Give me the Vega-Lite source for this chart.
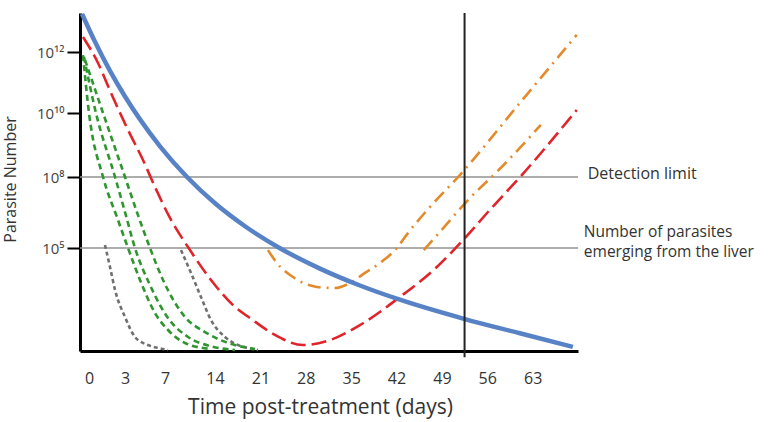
{
  "$schema": "https://vega.github.io/schema/vega-lite/v6.json",
  "width": 498,
  "height": 338,
  "autosize": {"type": "none"},
  "padding": {"left": 80, "top": 13, "right": 193, "bottom": 71},
  "background": "white",
  "config": {"view": {"stroke": null}, "font": "Open Sans"},
  "datasets": {
    "curves": [
      {"curve": "gray1", "day": 1.33, "log10_parasites": 5.13},
      {"curve": "gray1", "day": 1.75, "log10_parasites": 4.08},
      {"curve": "gray1", "day": 2.17, "log10_parasites": 2.96},
      {"curve": "gray1", "day": 3.0, "log10_parasites": 1.65},
      {"curve": "gray1", "day": 4.0, "log10_parasites": 0.68},
      {"curve": "gray1", "day": 5.3, "log10_parasites": 0.29},
      {"curve": "gray1", "day": 6.3, "log10_parasites": 0.15},
      {"curve": "gray1", "day": 7.42, "log10_parasites": 0.05},
      {"curve": "gray2", "day": 9.24, "log10_parasites": 4.9},
      {"curve": "gray2", "day": 10.64, "log10_parasites": 3.79},
      {"curve": "gray2", "day": 12.04, "log10_parasites": 2.62},
      {"curve": "gray2", "day": 13.44, "log10_parasites": 1.5},
      {"curve": "gray2", "day": 15.54, "log10_parasites": 0.68},
      {"curve": "gray2", "day": 17.55, "log10_parasites": 0.29},
      {"curve": "gray2", "day": 19.09, "log10_parasites": 0.15},
      {"curve": "gray2", "day": 20.63, "log10_parasites": 0.05},
      {"curve": "green1", "day": -0.5, "log10_parasites": 11.9},
      {"curve": "green1", "day": 0.0, "log10_parasites": 10.0},
      {"curve": "green1", "day": 1.17, "log10_parasites": 8.0},
      {"curve": "green1", "day": 2.42, "log10_parasites": 6.18},
      {"curve": "green1", "day": 3.3, "log10_parasites": 5.0},
      {"curve": "green1", "day": 4.5, "log10_parasites": 3.45},
      {"curve": "green1", "day": 6.0, "log10_parasites": 1.84},
      {"curve": "green1", "day": 7.42, "log10_parasites": 1.02},
      {"curve": "green1", "day": 9.8, "log10_parasites": 0.39},
      {"curve": "green1", "day": 13.3, "log10_parasites": 0.1},
      {"curve": "green2", "day": -0.42, "log10_parasites": 11.84},
      {"curve": "green2", "day": 0.58, "log10_parasites": 10.0},
      {"curve": "green2", "day": 2.17, "log10_parasites": 8.0},
      {"curve": "green2", "day": 3.0, "log10_parasites": 6.52},
      {"curve": "green2", "day": 4.0, "log10_parasites": 5.0},
      {"curve": "green2", "day": 5.5, "log10_parasites": 3.2},
      {"curve": "green2", "day": 7.42, "log10_parasites": 1.6},
      {"curve": "green2", "day": 10.22, "log10_parasites": 0.68},
      {"curve": "green2", "day": 13.3, "log10_parasites": 0.24},
      {"curve": "green2", "day": 17.08, "log10_parasites": 0.05},
      {"curve": "green3", "day": -0.33, "log10_parasites": 11.74},
      {"curve": "green3", "day": 1.17, "log10_parasites": 10.0},
      {"curve": "green3", "day": 3.0, "log10_parasites": 8.0},
      {"curve": "green3", "day": 4.3, "log10_parasites": 6.39},
      {"curve": "green3", "day": 5.5, "log10_parasites": 5.0},
      {"curve": "green3", "day": 6.8, "log10_parasites": 3.45},
      {"curve": "green3", "day": 9.8, "log10_parasites": 1.65},
      {"curve": "green3", "day": 12.6, "log10_parasites": 0.92},
      {"curve": "green3", "day": 16.0, "log10_parasites": 0.39},
      {"curve": "green3", "day": 20.17, "log10_parasites": 0.1},
      {"curve": "red", "day": -0.5, "log10_parasites": 12.5},
      {"curve": "red", "day": 0.75, "log10_parasites": 11.64},
      {"curve": "red", "day": 1.83, "log10_parasites": 10.66},
      {"curve": "red", "day": 3.3, "log10_parasites": 9.47},
      {"curve": "red", "day": 4.8, "log10_parasites": 8.53},
      {"curve": "red", "day": 6.0, "log10_parasites": 7.58},
      {"curve": "red", "day": 7.7, "log10_parasites": 6.27},
      {"curve": "red", "day": 10.22, "log10_parasites": 5.04},
      {"curve": "red", "day": 13.44, "log10_parasites": 3.45},
      {"curve": "red", "day": 17.08, "log10_parasites": 2.14},
      {"curve": "red", "day": 19.4, "log10_parasites": 1.6},
      {"curve": "red", "day": 23.25, "log10_parasites": 0.78},
      {"curve": "red", "day": 27.57, "log10_parasites": 0.29},
      {"curve": "red", "day": 31.73, "log10_parasites": 0.53},
      {"curve": "red", "day": 36.36, "log10_parasites": 1.26},
      {"curve": "red", "day": 42.52, "log10_parasites": 2.62},
      {"curve": "red", "day": 48.23, "log10_parasites": 4.08},
      {"curve": "red", "day": 52.55, "log10_parasites": 5.42},
      {"curve": "red", "day": 56.4, "log10_parasites": 6.61},
      {"curve": "red", "day": 61.33, "log10_parasites": 8.06},
      {"curve": "red", "day": 69.81, "log10_parasites": 10.1},
      {"curve": "orange1", "day": 22.17, "log10_parasites": 4.9},
      {"curve": "orange1", "day": 23.56, "log10_parasites": 4.27},
      {"curve": "orange1", "day": 26.03, "log10_parasites": 3.59},
      {"curve": "orange1", "day": 29.73, "log10_parasites": 3.11},
      {"curve": "orange1", "day": 32.5, "log10_parasites": 3.06},
      {"curve": "orange1", "day": 34.81, "log10_parasites": 3.3},
      {"curve": "orange1", "day": 37.13, "log10_parasites": 3.79},
      {"curve": "orange1", "day": 39.44, "log10_parasites": 4.27},
      {"curve": "orange1", "day": 42.06, "log10_parasites": 5.0},
      {"curve": "orange1", "day": 43.76, "log10_parasites": 5.63},
      {"curve": "orange1", "day": 47.15, "log10_parasites": 6.73},
      {"curve": "orange1", "day": 51.77, "log10_parasites": 8.06},
      {"curve": "orange1", "day": 61.03, "log10_parasites": 10.33},
      {"curve": "orange1", "day": 69.81, "log10_parasites": 12.57},
      {"curve": "orange2", "day": 46.22, "log10_parasites": 4.9},
      {"curve": "orange2", "day": 48.69, "log10_parasites": 5.68},
      {"curve": "orange2", "day": 53.32, "log10_parasites": 7.11},
      {"curve": "orange2", "day": 57.48, "log10_parasites": 8.16},
      {"curve": "orange2", "day": 61.03, "log10_parasites": 8.91},
      {"curve": "orange2", "day": 64.26, "log10_parasites": 9.63},
      {"curve": "blue", "day": -0.58, "log10_parasites": 13.27},
      {"curve": "blue", "day": 0.5, "log10_parasites": 12.34},
      {"curve": "blue", "day": 1.75, "log10_parasites": 11.38},
      {"curve": "blue", "day": 3.0, "log10_parasites": 10.54},
      {"curve": "blue", "day": 4.5, "log10_parasites": 9.8},
      {"curve": "blue", "day": 6.5, "log10_parasites": 8.96},
      {"curve": "blue", "day": 10.08, "log10_parasites": 8.0},
      {"curve": "blue", "day": 14.0, "log10_parasites": 6.89},
      {"curve": "blue", "day": 18.63, "log10_parasites": 5.92},
      {"curve": "blue", "day": 24.02, "log10_parasites": 4.99},
      {"curve": "blue", "day": 30.19, "log10_parasites": 4.0},
      {"curve": "blue", "day": 36.36, "log10_parasites": 3.18},
      {"curve": "blue", "day": 42.52, "log10_parasites": 2.49},
      {"curve": "blue", "day": 52.55, "log10_parasites": 1.55},
      {"curve": "blue", "day": 61.03, "log10_parasites": 0.86},
      {"curve": "blue", "day": 69.2, "log10_parasites": 0.2}
    ],
    "thresholds": [
      {"level": 8, "name": "Detection limit"},
      {"level": 5, "name": "Number of parasites emerging from the liver"}
    ]
  },
  "layer": [
    {
      "data": {"name": "thresholds"},
      "mark": {"type": "rule", "stroke": "#929292", "strokeWidth": 1.7},
      "encoding": {
        "y": {"field": "level", "type": "quantitative"},
        "x": {"datum": -0.75, "type": "quantitative"},
        "x2": {"datum": 70}
      }
    },
    {
      "data": {"name": "curves"},
      "transform": [{"filter": "datum.curve != 'blue'"}],
      "mark": {"type": "line", "interpolate": "monotone", "strokeWidth": 2.6},
      "encoding": {
        "x": {
          "field": "day", "type": "quantitative",
          "scale": {"domain": [-0.75, 0, 3, 7, 14, 70], "range": [0, 9, 45, 85, 135, 498], "nice": false, "zero": false},
          "axis": {
            "title": "Time post-treatment (days)",
            "values": [0, 3, 7, 14, 21, 28, 35, 42, 49, 56, 63],
            "ticks": false, "tickSize": 0, "grid": false,
            "domainColor": "black", "domainWidth": 3,
            "labelFont": "Open Sans", "labelFontSize": 16, "labelColor": "#333", "labelPadding": 19,
            "titleFont": "Open Sans", "titleFontSize": 21, "titleFontWeight": "normal", "titleColor": "#333",
            "titleX": 240, "titleY": 45, "titleBaseline": "top"
          }
        },
        "y": {
          "field": "log10_parasites", "type": "quantitative",
          "scale": {"domain": [0, 5, 8, 10, 12, 13.3], "range": [338, 235, 164, 100, 39, 0], "nice": false, "zero": false},
          "axis": {
            "title": "Parasite Number",
            "values": [5, 8, 10, 12],
            "labelExpr": "datum.value == 12 ? '10¹²' : datum.value == 10 ? '10¹⁰' : datum.value == 8 ? '10⁸' : '10⁵'",
            "grid": false, "tickSize": 13, "tickWidth": 2, "tickColor": "black",
            "domainColor": "black", "domainWidth": 3,
            "labelFont": "Open Sans", "labelFontSize": 15, "labelColor": "#444", "labelPadding": 3,
            "titleFont": "Open Sans", "titleFontSize": 16, "titleFontWeight": "normal", "titleColor": "#333",
            "titleX": -62, "titleY": 166, "titleAngle": -90, "titleBaseline": "bottom", "titleAlign": "center"
          }
        },
        "color": {
          "field": "curve", "type": "nominal", "legend": null,
          "scale": {
            "domain": ["gray1", "gray2", "green1", "green2", "green3", "red", "orange1", "orange2"],
            "range": ["#707070", "#707070", "#2f962f", "#2f962f", "#2f962f", "#e0252a", "#e38b2c", "#e38b2c"]
          }
        },
        "strokeDash": {
          "field": "curve", "type": "nominal", "legend": null,
          "scale": {
            "domain": ["gray1", "gray2", "green1", "green2", "green3", "red", "orange1", "orange2"],
            "range": [[4, 3], [4, 3], [6, 4], [6, 4], [6, 4], [15, 6], [13, 6, 2, 6], [13, 6, 2, 6]]
          }
        }
      }
    },
    {
      "data": {"name": "curves"},
      "transform": [{"filter": "datum.curve == 'blue'"}],
      "mark": {"type": "line", "interpolate": "monotone", "strokeWidth": 4.5, "color": "#5882c6"},
      "encoding": {
        "x": {"field": "day", "type": "quantitative"},
        "y": {"field": "log10_parasites", "type": "quantitative"}
      }
    },
    {
      "data": {"values": [{}]},
      "mark": {"type": "rule", "stroke": "#222", "strokeWidth": 2},
      "encoding": {
        "x": {"datum": 52.5, "type": "quantitative"},
        "y": {"datum": 13.3, "type": "quantitative"},
        "y2": {"datum": -0.3}
      }
    },
    {
      "data": {"values": [{}]},
      "mark": {"type": "text", "text": "Detection limit", "align": "left", "baseline": "middle", "dy": -3, "font": "Open Sans", "fontSize": 16, "color": "#333"},
      "encoding": {
        "x": {"datum": 71.5, "type": "quantitative"},
        "y": {"datum": 8, "type": "quantitative"}
      }
    },
    {
      "data": {"values": [{}]},
      "mark": {"type": "text", "text": ["Number of parasites", "emerging from the liver"], "align": "left", "baseline": "middle", "lineHeight": 20, "font": "Open Sans", "fontSize": 15.5, "color": "#333"},
      "encoding": {
        "x": {"datum": 70.9, "type": "quantitative"},
        "y": {"datum": 5.66, "type": "quantitative"}
      }
    }
  ]
}
